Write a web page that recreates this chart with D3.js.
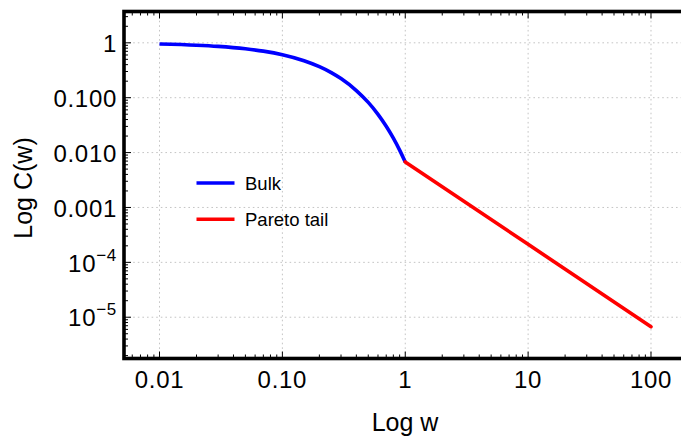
<!DOCTYPE html>
<html>
<head>
<meta charset="utf-8">
<script src="https://cdn.jsdelivr.net/npm/d3@7"></script>
<style>
  html, body { margin: 0; padding: 0; background: #fff; }
  svg { display: block; }
  text { font-family: "Liberation Sans", Arial, sans-serif; fill: #000; }
</style>
</head>
<body>
<svg id="chart" width="681" height="436"></svg>
<script>
// Bulk part of the distribution: C(w) for 0.01 <= w <= 1
const bulkW = [0.01, 0.02, 0.03, 0.05, 0.07, 0.1, 0.15, 0.2, 0.25, 0.3, 0.4, 0.5, 0.6, 0.7, 0.8, 0.9, 1.0];
const bulkC = [0.951, 0.905, 0.861, 0.779, 0.705, 0.607, 0.472, 0.368, 0.287, 0.223, 0.135, 0.082, 0.0498, 0.0302, 0.0183, 0.0111, 0.00674];

// Pareto tail: power law from w = 1 to w = 100
const tailW = [1, 10, 100];
const tailC = [0.00674, 0.000213, 0.00000674];

// Axis ticks and labels
const xTicks = [0.01, 0.1, 1, 10, 100];
const xTickLabels = ["0.01", "0.10", "1", "10", "100"];
const yTicks = [1, 0.1, 0.01, 0.001, 1e-4, 1e-5];
const yTickLabels = [["1"], ["0.100"], ["0.010"], ["0.001"], ["10", "\u22124"], ["10", "\u22125"]];

const seriesNames = ["Bulk", "Pareto tail"];
const seriesColors = ["#0000ff", "#ff0000"];

(function () {
  const svg = d3.select("#chart");

  const pL = 124, pT = 11.5, pB = 358.5, pR = 694;
  const x = d3.scaleLog().domain([0.00514, 223.9]).range([pL, pR]);
  const y = d3.scaleLog().domain([1.77e-6, 3.72]).range([pB, pT]);

  // minor tick positions (2..9 within each decade)
  function minorTicks(lo, hi) {
    const out = [];
    for (let e = Math.floor(Math.log10(lo)); e <= Math.ceil(Math.log10(hi)); e++) {
      for (let m = 2; m <= 9; m++) {
        const v = m * Math.pow(10, e);
        if (v > lo && v < hi) out.push(v);
      }
    }
    return out;
  }

  // grid
  const grid = svg.append("g")
    .attr("stroke", "#c4c4c4")
    .attr("stroke-width", 1)
    .attr("stroke-dasharray", "1.6,3");
  grid.append("g").selectAll("line").data(xTicks).join("line")
    .attr("x1", d => x(d)).attr("x2", d => x(d))
    .attr("y1", pT).attr("y2", pB);
  grid.append("g").selectAll("line").data(yTicks).join("line")
    .attr("x1", pL).attr("x2", pR)
    .attr("y1", d => y(d)).attr("y2", d => y(d));

  // series
  const line = d3.line()
    .x(d => x(d[0]))
    .y(d => y(d[1]))
    .curve(d3.curveMonotoneX);

  svg.append("path")
    .datum(bulkW.map((w, i) => [w, bulkC[i]]))
    .attr("fill", "none")
    .attr("stroke", seriesColors[0])
    .attr("stroke-width", 3.6)
    .attr("d", line);

  svg.append("path")
    .datum(tailW.map((w, i) => [w, tailC[i]]))
    .attr("fill", "none")
    .attr("stroke", seriesColors[1])
    .attr("stroke-width", 3.6)
    .attr("stroke-linecap", "round")
    .attr("d", d3.line().x(d => x(d[0])).y(d => y(d[1])));

  // ticks (inside the frame)
  const ticks = svg.append("g").attr("stroke", "#000").attr("stroke-width", 1);
  const xMinor = minorTicks(x.domain()[0], x.domain()[1]);
  const yMinor = minorTicks(y.domain()[0], y.domain()[1]);
  // bottom and top
  [[pB, -1], [pT, 1]].forEach(([yy, dir]) => {
    ticks.append("g").selectAll("line").data(xTicks).join("line")
      .attr("x1", d => x(d)).attr("x2", d => x(d))
      .attr("y1", yy).attr("y2", yy + dir * 7);
    ticks.append("g").selectAll("line").data(xMinor).join("line")
      .attr("x1", d => x(d)).attr("x2", d => x(d))
      .attr("y1", yy).attr("y2", yy + dir * 4);
  });
  // left
  ticks.append("g").selectAll("line").data(yTicks).join("line")
    .attr("x1", pL).attr("x2", pL + 7)
    .attr("y1", d => y(d)).attr("y2", d => y(d));
  ticks.append("g").selectAll("line").data(yMinor).join("line")
    .attr("x1", pL).attr("x2", pL + 4)
    .attr("y1", d => y(d)).attr("y2", d => y(d));

  // frame
  svg.append("rect")
    .attr("x", pL).attr("y", pT)
    .attr("width", pR - pL).attr("height", pB - pT)
    .attr("fill", "none")
    .attr("stroke", "#000")
    .attr("stroke-width", 3.6);

  // x tick labels
  svg.append("g").selectAll("text").data(xTicks).join("text")
    .attr("x", d => x(d))
    .attr("y", 388)
    .attr("text-anchor", "middle")
    .attr("font-size", 24)
    .attr("letter-spacing", 0.7)
    .text((d, i) => xTickLabels[i]);

  // y tick labels
  const yl = svg.append("g").selectAll("text").data(yTicks).join("text")
    .attr("x", 117)
    .attr("y", d => y(d) + 9.2)
    .attr("text-anchor", "end")
    .attr("font-size", 24)
    .attr("letter-spacing", 0.7);
  yl.each(function (d, i) {
    const t = d3.select(this);
    const parts = yTickLabels[i];
    t.append("tspan").text(parts[0]);
    if (parts.length > 1) {
      t.append("tspan").attr("dy", -11).attr("font-size", 17).text(parts[1]);
    }
  });

  // axis titles
  svg.append("text")
    .attr("x", 405).attr("y", 431)
    .attr("text-anchor", "middle")
    .attr("font-size", 25)
    .text("Log w");
  svg.append("text")
    .attr("transform", "translate(32,188) rotate(-90)")
    .attr("text-anchor", "middle")
    .attr("font-size", 25)
    .text("Log C(w)");

  // legend
  const legend = svg.append("g");
  seriesNames.forEach((name, i) => {
    const ly = 183 + i * 36.3;
    legend.append("line")
      .attr("x1", 196.5).attr("x2", 234.5)
      .attr("y1", ly).attr("y2", ly)
      .attr("stroke", seriesColors[i])
      .attr("stroke-width", 3.6);
    legend.append("text")
      .attr("x", 245).attr("y", ly + 6.8)
      .attr("font-size", 18.5)
      .text(name);
  });
})();
</script>
</body>
</html>
